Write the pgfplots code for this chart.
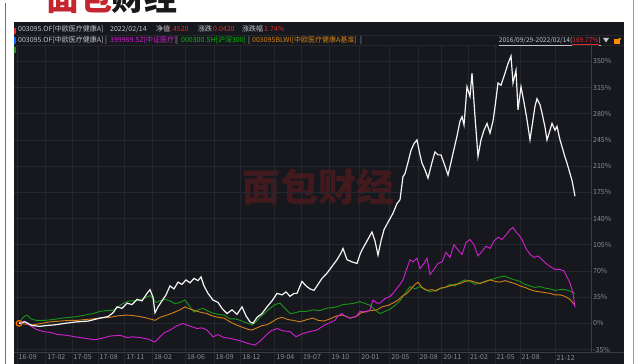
\documentclass[border=0pt]{standalone}
\usepackage{fontspec}
\setmainfont{Noto Sans CJK SC}
\usepackage{pgfplots}
\usepackage{pgfplotstable}
\pgfplotsset{compat=1.18}
\definecolor{panel}{RGB}{22,24,29}
\definecolor{gridc}{RGB}{36,39,46}
\definecolor{axisc}{RGB}{58,61,68}
\definecolor{tickc}{RGB}{138,142,150}
\definecolor{headc}{RGB}{192,196,204}
\definecolor{valred}{RGB}{225,45,45}
\definecolor{cmag}{RGB}{212,32,212}
\definecolor{cgreen}{RGB}{24,150,24}
\definecolor{corange}{RGB}{212,128,22}
\definecolor{cwhite}{RGB}{245,245,245}
\definecolor{logored}{RGB}{196,38,46}
\definecolor{wmred}{RGB}{66,26,29}

% x = position index (trading-time axis), y = cumulative return in %
\pgfplotstableread{
x y
19 0
25 2
32 -3
40 -4
46 -3
55 -2
65 0
77 2
88 3
100 7
108 9
113 14
117 22
122 20
127 27
132 25
137 32
142 30
147 40
150 45
153 35
155 14
158 22
162 30
166 38
170 50
174 46
178 55
182 52
186 58
190 54
194 60
198 57
201 62
204 50
208 40
213 31
218 28
222 20
227 13
232 18
237 12
242 22
246 10
250 2
253 0
257 8
262 13
267 22
272 30
277 40
282 38
286 42
290 36
294 40
297 40
302 56
306 50
310 46
314 44
318 52
322 60
327 67
332 76
337 85
341 94
343 100
347 85
352 82
357 80
360 92
362 98
367 110
372 122
375 110
378 91
381 110
384 125
388 135
393 147
397 160
400 165
403 196
405 200
408 215
411 231
414 240
417 245
420 225
422 214
425 205
428 194
432 215
435 229
438 225
441 225
445 210
448 198
451 215
453 227
457 250
460 270
462 276
464 265
467 316
470 303
472 334
475 276
478 223
481 245
484 258
487 267
490 254
493 270
495 289
498 321
501 318
505 334
508 347
511 357
513 321
516 338
518 285
521 316
524 295
527 272
530 245
532 263
535 290
537 300
540 292
542 281
545 262
547 245
550 258
552 267
555 258
557 263
560 245
562 236
565 222
567 214
570 200
572 191
575 169.77
}\fund

\pgfplotstableread{
x y
19 0
24 3
30 -3
36 -8
43 -11
50 -12
58 -15
67 -16
75 -18
85 -20
95 -22
102 -20
110 -17
120 -16
127 -19
133 -18
140 -19
148 -21
155 -25
160 -18
164 -13
170 -9
176 -4
183 0
188 -3
193 -5
197 -7
202 -6
207 -9
213 -18
218 -15
224 -19
230 -20
236 -22
242 -24
248 -27
255 -29
260 -24
266 -16
271 -10
277 -7
283 -10
290 -11
296 -18
302 -14
310 -11
317 -9
325 -2
330 1
335 4
338 10
342 13
346 9
350 7
356 9
360 16
366 15
370 18
373 31
377 27
380 27
385 33
390 36
393 40
397 47
400 52
403 58
406 70
410 85
413 82
417 87
420 73
424 80
427 87
430 65
434 72
438 80
442 82
446 95
450 88
454 105
458 98
462 92
466 108
470 112
474 105
478 90
482 96
486 103
490 100
494 110
498 115
502 112
506 118
510 125
513 128
516 122
519 118
522 112
526 100
530 92
534 88
538 90
542 85
546 80
550 76
555 72
560 72
564 70
567 62
570 54
573 40
575 21
}\med

\pgfplotstableread{
x y
19 0
23 8
27 11
31 6
36 4
45 4
53 5
62 7
70 8
77 9
85 11
93 13
100 16
107 17
115 18
120 24
125 28
130 30
135 30
140 31
145 34
150 37
153 33
156 28
160 30
165 32
170 30
175 26
180 28
185 31
190 22
194 15
198 18
203 20
207 17
212 14
218 12
224 11
230 6
235 6
240 4
246 1
252 -2
256 2
260 8
265 14
270 20
275 25
280 27
285 20
290 13
295 14
300 16
307 16
313 18
320 17
326 20
332 21
337 22
343 25
350 26
355 27
360 29
364 27
370 24
375 18
380 13
385 16
390 19
395 24
400 30
405 40
410 49
415 46
420 49
425 45
430 42
435 44
440 46
445 48
450 52
455 50
460 55
465 58
470 56
475 52
480 54
485 55
490 58
495 60
500 62
505 63
510 60
515 58
520 56
525 52
530 50
535 48
540 49
545 47
550 46
555 44
560 45
565 45
570 43
575 40
}\hs

\pgfplotstableread{
x y
19 0
25 -1
33 -2
42 0
50 2
60 3
70 4
77 4
85 5
93 6
100 7
110 8
118 10
127 11
135 10
140 9
147 7
155 4
160 8
167 11
173 14
180 18
185 22
190 19
195 17
200 15
207 13
212 10
218 8
224 7
230 2
236 -2
242 -5
248 -8
252 -9
257 -6
262 -3
267 -2
272 2
277 6
282 8
288 5
293 4
300 2
307 5
313 7
318 4
324 3
330 6
337 10
343 11
350 7
356 9
361 14
366 16
371 17
377 18
382 22
388 24
393 27
398 31
402 36
407 40
411 46
415 52
418 55
422 48
427 44
432 45
436 43
440 47
445 48
450 50
455 52
460 53
465 56
470 57
475 55
480 53
485 56
490 58
495 56
500 55
505 57
510 55
515 53
520 50
525 48
530 45
535 43
540 42
545 41
550 40
555 38
560 38
565 36
570 32
575 24
}\bench

\begin{document}
\begin{tikzpicture}[x=1pt,y=1pt]
\useasboundingbox (0,0) rectangle (640,364);
\clip (0,0) rectangle (640,364);
\fill[white] (0,0) rectangle (640,364);
% frame lines of the screenshot
\draw[line width=1pt, color=red!80!white] (5,0) -- (5,361);
\draw[line width=0.8pt, color=black!40] (633,0) -- (633,364);
% logo (cut at the top, as in the screenshot)
\node[anchor=base west, inner sep=0pt, font=\fontsize{33}{33}\selectfont\bfseries, text=logored] at (46,353) {面包};
\node[anchor=base west, inner sep=0pt, font=\fontsize{33}{33}\selectfont\bfseries, text=black!90] at (111,353) {财经};
% dark panel
\fill[panel] (14,0) rectangle (624,342);
\fill[valred] (14,330) rectangle (15.5,336);
\fill[blue!60!cyan] (14,320) rectangle (15.5,327);
\fill[cgreen] (14,311) rectangle (15.5,317);
\draw[gridc, line width=0.6pt] (14,329) -- (624,329);
\draw[gridc, line width=0.6pt] (14,319) -- (624,319);
% header row 1
\begin{scope}[every node/.style={anchor=base west, inner sep=0pt, font=\fontsize{7}{8}\selectfont}]
\node[text=headc] at (18,332) {003095.OF[中欧医疗健康A]};
\node[text=headc] at (110,332) {2022/02/14};
\node[text=headc] at (156,332) {净值};
\node[text=valred] at (167,332) {2.4520};
\node[text=headc] at (198,332) {涨跌};
\node[text=valred] at (213,332) {0.0420};
\node[text=headc] at (242,332) {涨跌幅};
\node[text=valred] at (264,332) {1.74\%};
% header row 2
\node[text=headc] at (18,321) {003095.OF[中欧医疗健康A] |};
\node[text=cmag] at (110,321) {399989.SZ[中证医疗]};
\node[text=headc] at (176,321) {|};
\node[text=green!75!black] at (181,321) {000300.SH[沪深300]};
\node[text=headc] at (248,321) {|};
\node[text=corange] at (252,321) {003095BLWI[中欧医疗健康A基准]};
\node[text=headc] at (360,321) {|};
\node[text=headc, anchor=base east, font=\fontsize{6.6}{8}\selectfont] at (601,321) {\underline{2016/09/29-2022/02/14(}\textcolor{valred}{\underline{169.77\%}}\underline{)}};
\end{scope}
\fill[headc] (603,326) -- (609,326) -- (606,321.5) -- cycle;
\fill[orange!90!yellow] (614,320) rectangle (620,324.5);
\draw[orange!90!yellow, line width=0.8pt] (618.5,324.5) arc (180:0:1.3);
% watermark
\node[font=\fontsize{38}{38}\selectfont\bfseries, text=wmred, inner sep=0pt] at (318,177) {面包财经};
% bottom strip separators
\foreach \t in {17,45.7,72,98,124.7,152.3,185.3,214,240.7,274.7,301.3,329.7,359.7,389.7,418,441.7,468.3,495,520,555}
  \draw[gridc, line width=0.5pt] (\t,0) -- (\t,12);
\draw[axisc, line width=0.6pt] (14,12) -- (624,12);
\draw[axisc, line width=0.6pt] (591,12) -- (591,321);

\begin{axis}[
  at={(14pt,12pt)}, anchor=south west,
  scale only axis, width=577pt, height=306pt,
  xmin=14, xmax=591, ymin=-38.3, ymax=370.4,
  axis x line*=bottom, axis y line*=right,
  axis line style={draw=none},
  xtick={17,45.7,72,98,124.7,152.3,185.3,214,240.7,274.7,301.3,329.7,359.7,389.7,418,441.7,468.3,495,520,555},
  xticklabels={16-09,17-02,17-05,17-08,17-11,18-02,18-06,18-09,18-12,19-04,19-07,19-10,20-01,20-05,20-08,20-11,21-02,21-05,21-08,21-12},
  ytick={-35,0,35,70,105,140,175,210,245,280,315,350},
  yticklabels={-35\%,0\%,35\%,70\%,105\%,140\%,175\%,210\%,245\%,280\%,315\%,350\%},
  xtick style={draw=none}, ytick style={draw=none},
  xticklabel style={anchor=west, inner sep=0pt, xshift=1.5pt, yshift=-5.5pt, font=\fontsize{7}{8}\selectfont, text=tickc},
  yticklabel style={anchor=west, inner sep=0pt, xshift=2pt, font=\fontsize{7}{8}\selectfont, text=tickc},
  grid=major, major grid style={color=gridc, line width=0.5pt},
  clip=true,
]
\addplot[cgreen, line width=0.9pt] table[x=x,y=y] {\hs};
\addplot[corange, line width=0.9pt] table[x=x,y=y] {\bench};
\addplot[cmag, line width=0.9pt] table[x=x,y=y] {\med};
\addplot[cwhite, line width=1.2pt] table[x=x,y=y] {\fund};
\addplot[only marks, mark=o, mark size=2.8pt, mark options={draw=orange!90!red, line width=1.2pt}] coordinates {(19,0)};
\end{axis}
\end{tikzpicture}
\end{document}
